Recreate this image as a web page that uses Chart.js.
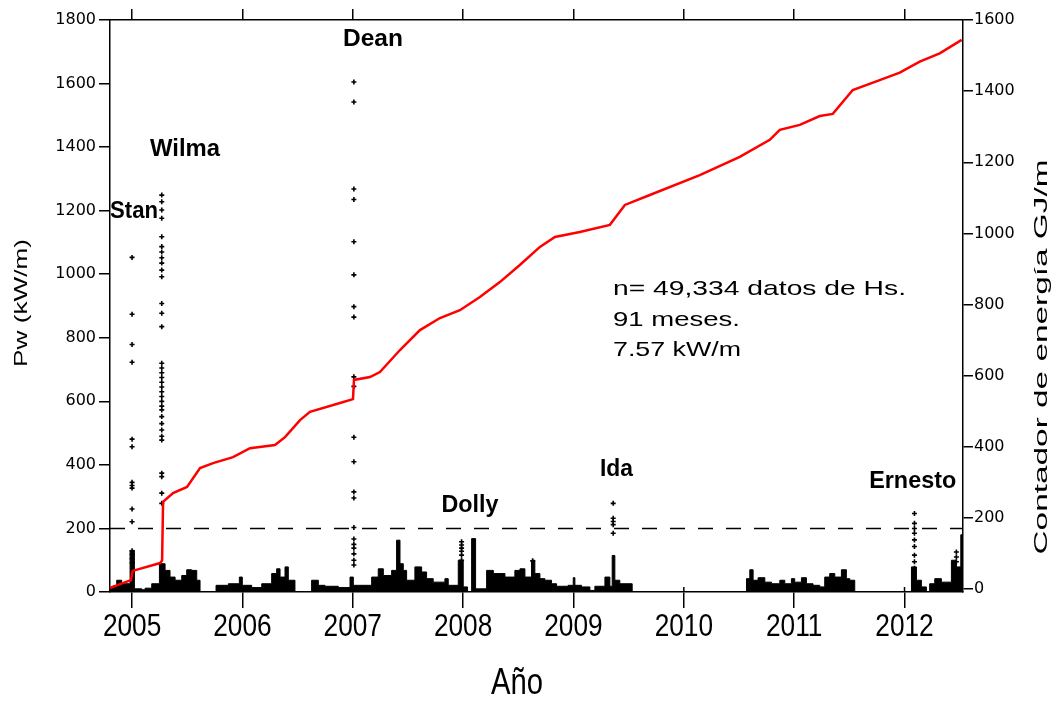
<!DOCTYPE html>
<html>
<head>
<meta charset="utf-8">
<script src="https://cdn.jsdelivr.net/npm/chart.js@4.4.1/dist/chart.umd.min.js"></script>
<style>
  html, body { margin: 0; padding: 0; background: #fff; }
  #wrap { width: 1060px; height: 704px; position: relative; }
</style>
</head>
<body>
<div id="wrap"><canvas id="chart"></canvas></div>
<script>
// Wave power record Pw (kW/m): breakpoints of the hourly envelope (year, value), 0 = no data
const pwYears = [
  2004.800, 2004.831, 2004.861, 2004.906, 2004.982, 2005.021, 2005.088, 2005.118, 2005.178, 2005.248,
  2005.299, 2005.344, 2005.390, 2005.450, 2005.495, 2005.540, 2005.586, 2005.616, 2005.761, 2005.873,
  2005.972, 2005.999, 2006.084, 2006.175, 2006.265, 2006.310, 2006.341, 2006.386, 2006.416, 2006.476,
  2006.627, 2006.688, 2006.748, 2006.869, 2006.975, 2007.005, 2007.171, 2007.231, 2007.277, 2007.352,
  2007.397, 2007.428, 2007.458, 2007.488, 2007.563, 2007.624, 2007.669, 2007.729, 2007.835, 2007.865,
  2007.956, 2008.001, 2008.040, 2008.077, 2008.113, 2008.213, 2008.274, 2008.379, 2008.469, 2008.515,
  2008.560, 2008.620, 2008.650, 2008.696, 2008.741, 2008.801, 2008.847, 2008.952, 2008.998, 2009.013,
  2009.073, 2009.149, 2009.194, 2009.285, 2009.330, 2009.351, 2009.375, 2009.420, 2009.532, 2010.568,
  2010.598, 2010.628, 2010.673, 2010.734, 2010.794, 2010.870, 2010.915, 2010.975, 2011.005, 2011.066,
  2011.111, 2011.171, 2011.232, 2011.277, 2011.322, 2011.368, 2011.428, 2011.473, 2011.504, 2011.549,
  2012.063, 2012.108, 2012.153, 2012.198, 2012.228, 2012.274, 2012.334, 2012.425, 2012.471, 2012.510,
  2012.530
];
const pwValues = [
  12, 20, 37, 26, 131, 10, 7, 12, 26, 89,
  68, 47, 37, 52, 70, 68, 37, 0, 21, 26,
  47, 21, 14, 26, 58, 73, 47, 79, 37, 0,
  37, 21, 18, 14, 47, 21, 47, 73, 52, 68,
  163, 89, 68, 37, 79, 63, 42, 31, 42, 21,
  100, 16, 0, 168, 10, 68, 58, 47, 68, 73,
  47, 100, 58, 42, 37, 26, 18, 21, 45, 21,
  16, 5, 18, 47, 18, 115, 37, 26, 0, 42,
  70, 37, 45, 31, 26, 37, 26, 42, 31, 45,
  26, 21, 16, 47, 58, 47, 70, 42, 37, 0,
  79, 37, 16, 0, 26, 42, 31, 100, 79, 180,
  180
];

// Cumulative wave energy counter (GJ/m)
const energyYears = [
  2004.800, 2004.990, 2005.005, 2005.254, 2005.272, 2005.281, 2005.371, 2005.498, 2005.616, 2005.734,
  2005.915, 2006.069, 2006.295, 2006.386, 2006.522, 2006.612, 2006.884, 2007.002, 2007.011, 2007.156,
  2007.246, 2007.428, 2007.609, 2007.790, 2007.971, 2008.152, 2008.333, 2008.514, 2008.696, 2008.832,
  2009.058, 2009.330, 2009.466, 2009.692, 2010.145, 2010.507, 2010.779, 2010.870, 2011.051, 2011.232,
  2011.350, 2011.531, 2011.775, 2011.957, 2012.138, 2012.319, 2012.518
];
const energyValues = [
  3, 25, 51, 73, 80, 245, 270, 287, 340, 354,
  371, 396, 405, 427, 475, 498, 523, 534, 588, 596,
  610, 672, 728, 762, 784, 821, 863, 911, 962, 990,
  1004, 1024, 1080, 1108, 1164, 1215, 1263, 1291, 1305, 1330,
  1336, 1403, 1431, 1452, 1483, 1506, 1544
];

// Storm peaks (Pw, kW/m)
const stormNames = ['Stan', 'Wilma', 'Dean', 'Dolly', 'Ida', 'Ernesto'];
const stormYears = [2005.0, 2005.269, 2007.01, 2007.986, 2009.36, 2012.09];
const stanPw = [1053, 874, 779, 723, 481, 457, 345, 335, 327, 261, 221, 130, 118, 105, 92];
const wilmaPw = [1249, 1228, 1202, 1176, 1118, 1087, 1070, 1052, 1035, 1013, 992, 908, 877, 835,
  720, 705, 690, 675, 660, 645, 630, 615, 600, 585, 573, 552, 530, 510, 490, 478, 374, 363, 311, 279];
const deanPw = [1605, 1542, 1268, 1235, 1102, 998, 898, 865, 677, 647, 487, 410, 315, 296, 203, 167, 150, 138, 120, 100, 85];
const dollyPw = [158, 148, 138, 128, 116, 100];
const idaPw = [279, 232, 222, 212, 185];
const ernestoPw = [247, 216, 200, 185, 164, 143, 116, 95, 75];
const lateYears = [2008.63, 2012.47, 2012.47, 2012.47];
const latePw = [98, 126, 110, 95];

const thresholdPw = 200;
const yearTicks = [2005, 2006, 2007, 2008, 2009, 2010, 2011, 2012];
const pwTicks = [0, 200, 400, 600, 800, 1000, 1200, 1400, 1600, 1800];
const energyTicks = [0, 200, 400, 600, 800, 1000, 1200, 1400, 1600];
const summaryLines = ['n= 49,334 datos de Hs.', '91 meses.', '7.57 kW/m'];

const xMin = 2004.8, xMax = 2012.53;

const pwSeries = pwYears.map((x, i) => ({ x, y: pwValues[i] }));
const energySeries = energyYears.map((x, i) => ({ x, y: energyValues[i] }));
const stormSeries = [];
[stanPw, wilmaPw, deanPw, dollyPw, idaPw, ernestoPw].forEach((vals, k) => {
  vals.forEach(v => stormSeries.push({ x: stormYears[k], y: v }));
});
lateYears.forEach((x, i) => stormSeries.push({ x, y: latePw[i] }));

const tickFont = { family: '"DejaVu Sans", sans-serif', size: 16 };
const sans = '"Liberation Sans", Arial, sans-serif';

function drawText(ctx, t, px, py) {
  ctx.save();
  ctx.font = t.font;
  ctx.fillStyle = '#000';
  ctx.textAlign = t.align || 'center';
  ctx.textBaseline = 'middle';
  ctx.translate(px, py);
  if (t.rotate) ctx.rotate(t.rotate);
  const w = ctx.measureText(t.text).width;
  const sx = t.width ? t.width / w : (t.sx || 1);
  ctx.scale(sx, 1);
  ctx.fillText(t.text, 0, 0);
  ctx.restore();
}

// free text: storm names, summary block, axis titles and condensed year labels
const chartTexts = {
  id: 'chartTexts',
  afterDraw(chart, args, opts) {
    const ctx = chart.ctx;
    const xs = chart.scales.x, ys = chart.scales.y;
    for (const t of opts.items) {
      let px = t.px, py = t.py;
      if (t.x !== undefined) { px = xs.getPixelForValue(t.x); py = ys.getPixelForValue(t.y); }
      drawText(ctx, t, px, py);
    }
    for (const tk of xs.ticks) {
      drawText(ctx, { text: String(tk.value), font: '32px ' + sans, sx: 0.82 },
        xs.getPixelForValue(tk.value), opts.yearLabelY);
    }
  }
};

// small marks on the inner side of the bottom axis
const innerTicks = {
  id: 'innerTicks',
  afterDatasetsDraw(chart) {
    const ctx = chart.ctx, xs = chart.scales.x, a = chart.chartArea;
    ctx.save();
    ctx.strokeStyle = '#000';
    ctx.lineWidth = 1.5;
    for (const t of xs.ticks) {
      const p = xs.getPixelForValue(t.value);
      ctx.beginPath();
      ctx.moveTo(p, a.bottom);
      ctx.lineTo(p, a.bottom - 5);
      ctx.stroke();
    }
    ctx.restore();
  }
};

const boldFont = 'bold 23px ' + sans;
const stormLabels = [
  { text: stormNames[0], x: 2005.018, y: 1196, width: 48 },
  { text: stormNames[1], x: 2005.48, y: 1391, width: 70 },
  { text: stormNames[2], x: 2007.183, y: 1737, width: 60 },
  { text: stormNames[3], x: 2008.062, y: 271, width: 57 },
  { text: stormNames[4], x: 2009.389, y: 384, width: 33 },
  { text: stormNames[5], x: 2012.074, y: 346, width: 87 }
].map(o => Object.assign({ font: boldFont }, o));

const textItems = stormLabels.concat([
  { text: summaryLines[0], px: 613, py: 289, align: 'left', font: '21px ' + sans, width: 293 },
  { text: summaryLines[1], px: 613, py: 320, align: 'left', font: '21px ' + sans, width: 127 },
  { text: summaryLines[2], px: 613, py: 350, align: 'left', font: '21px ' + sans, width: 128 },
  { text: 'Pw (kW/m)', px: 22, py: 303, rotate: -Math.PI / 2, font: '19px ' + sans, width: 128 },
  { text: 'Contador de energía GJ/m', px: 1042, py: 357, rotate: -Math.PI / 2, font: '18px ' + sans, width: 395 },
  { text: 'Año', px: 517, py: 684, font: '36px ' + sans, width: 52 }
]);

new Chart(document.getElementById('chart'), {
  type: 'line',
  data: {
    datasets: [
      {
        label: 'Contador de energía',
        data: energySeries,
        yAxisID: 'y2',
        borderColor: '#ff0000',
        borderWidth: 2.5,
        pointRadius: 0,
        tension: 0
      },
      {
        label: 'Umbral',
        data: [{ x: xMin, y: thresholdPw }, { x: xMax, y: thresholdPw }],
        yAxisID: 'y',
        borderColor: '#000',
        borderWidth: 1.5,
        borderDash: [15, 13],
        pointRadius: 0
      },
      {
        label: 'Tormentas',
        data: stormSeries,
        yAxisID: 'y',
        showLine: false,
        pointStyle: 'cross',
        pointRadius: 2.5,
        pointBorderWidth: 1.6,
        borderColor: '#000',
        backgroundColor: '#000'
      },
      {
        label: 'Pw',
        data: pwSeries,
        yAxisID: 'y',
        stepped: 'before',
        fill: 'origin',
        borderColor: '#000',
        backgroundColor: '#000',
        borderWidth: 1,
        pointRadius: 0
      }
    ]
  },
  options: {
    responsive: true,
    maintainAspectRatio: false,
    animation: false,
    layout: { padding: 0 },
    plugins: {
      legend: { display: false },
      tooltip: { enabled: false },
      chartTexts: { items: textItems, yearLabelY: 627 }
    },
    scales: {
      x: {
        type: 'linear',
        position: 'bottom',
        min: xMin, max: xMax,
        afterBuildTicks: s => { s.ticks = yearTicks.map(v => ({ value: v })); },
        afterFit: s => { s.height = 112; },
        border: { display: true, color: '#000', width: 1.5 },
        grid: { drawOnChartArea: false, drawTicks: true, tickLength: 16, color: '#000', lineWidth: 1.5 },
        ticks: { display: false, callback: v => String(v) }
      },
      x2: {
        type: 'linear',
        position: 'top',
        min: xMin, max: xMax,
        afterBuildTicks: s => { s.ticks = yearTicks.map(v => ({ value: v })); },
        afterFit: s => { s.height = 20; },
        border: { display: true, color: '#000', width: 1.5 },
        grid: { drawOnChartArea: false, drawTicks: true, tickLength: 11, color: '#000', lineWidth: 1.5 },
        ticks: { display: false }
      },
      y: {
        type: 'linear',
        position: 'left',
        min: 0, max: 1800,
        afterBuildTicks: s => { s.ticks = pwTicks.map(v => ({ value: v })); },
        afterFit: s => { s.width = 110; },
        border: { display: true, color: '#000', width: 1.5 },
        grid: { drawOnChartArea: false, tickLength: 11, color: '#000', lineWidth: 1.5 },
        ticks: { color: '#000', padding: 3, font: tickFont, callback: v => String(v) }
      },
      y2: {
        type: 'linear',
        position: 'right',
        min: -8.4, max: 1600,
        afterBuildTicks: s => { s.ticks = energyTicks.map(v => ({ value: v })); },
        afterFit: s => { s.width = 97; },
        border: { display: true, color: '#000', width: 1.5 },
        grid: { drawOnChartArea: false, tickLength: 10, color: '#000', lineWidth: 1.5 },
        ticks: { color: '#000', padding: 1, font: tickFont, callback: v => String(v) }
      }
    }
  },
  plugins: [chartTexts, innerTicks]
});
</script>
</body>
</html>
